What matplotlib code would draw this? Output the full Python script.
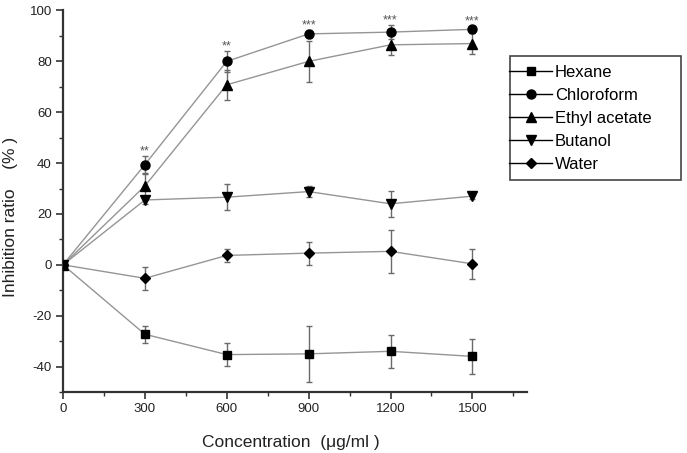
import numpy as np
import matplotlib.pyplot as plt
from matplotlib.lines import Line2D
from matplotlib.patches import Rectangle
from matplotlib.ticker import MultipleLocator

plt.rcParams['font.family'] = ['Liberation Sans', 'DejaVu Sans']
plt.rcParams['axes.unicode_minus'] = False

conc = [0, 300, 600, 900, 1200, 1500]

hexane = [0, -27.3, -35.3, -35.0, -34.0, -36.0]
hexane_err = [0, 3.3, 4.5, 11.0, 6.5, 7.0]
chloroform = [0, 39.4, 80.0, 90.8, 91.5, 92.6]
chloroform_err = [0, 3.5, 4.0, 1.5, 2.8, 1.5]
ethyl = [0, 31.0, 70.8, 80.0, 86.5, 87.0]
ethyl_err = [0, 5.0, 6.0, 8.0, 4.0, 4.0]
butanol = [0, 25.5, 26.6, 28.8, 24.0, 27.0]
butanol_err = [0, 1.5, 5.0, 2.0, 5.0, 1.0]
water = [0, -5.3, 3.7, 4.6, 5.3, 0.4]
water_err = [0, 4.5, 2.5, 4.5, 8.5, 6.0]

names = ['Hexane', 'Chloroform', 'Ethyl acetate', 'Butanol', 'Water']
markers = ['s', 'o', '^', 'v', 'D']
msizes = [5.5, 6.5, 6.5, 6.5, 5.5]
series = [(hexane, hexane_err), (chloroform, chloroform_err), (ethyl, ethyl_err),
          (butanol, butanol_err), (water, water_err)]

stars = ['', '**', '**', '***', '***', '***']

W, H = 687, 453
fig = plt.figure(figsize=(W / 100, H / 100), dpi=100)
ax = fig.add_axes([63 / W, 61 / H, 464 / W, 381.5 / H])

line_c = '#959595'
for (vals, errs), m, ms in zip(series, markers, msizes):
    ax.errorbar(conc, vals, yerr=errs, color=line_c, lw=1.0, ecolor='#6a6a6a',
                elinewidth=1.0, capsize=2.5, capthick=1.0, marker=m, ms=ms,
                mfc='black', mec='black', zorder=3)

# significance marks above chloroform
for x, y, e, s in zip(conc, chloroform, chloroform_err, stars):
    if s:
        ax.text(x, y + e + 0.5, s, ha='center', va='baseline', fontsize=9,
                color='#555555')

ax.set_xlim(0, 1700)
ax.set_ylim(-50, 100)
ax.xaxis.set_major_locator(MultipleLocator(300))
ax.xaxis.set_minor_locator(MultipleLocator(150))
ax.yaxis.set_major_locator(MultipleLocator(20))
ax.yaxis.set_minor_locator(MultipleLocator(10))
ax.set_xticks([0, 300, 600, 900, 1200, 1500])

for sp in ['top', 'right']:
    ax.spines[sp].set_visible(False)
for sp in ['left', 'bottom']:
    ax.spines[sp].set_linewidth(1.6)
    ax.spines[sp].set_color('#333333')

ax.tick_params(which='major', length=5, width=1.2, labelsize=9.5, color='#333333',
               labelcolor='#222222', pad=3)
ax.tick_params(which='minor', length=3, width=1.0, color='#333333')

fig.text(291 / W, 1 - 443 / H, 'Concentration  (μg/ml )', fontsize=12.5,
         color='#222222', ha='center', va='center')
fig.text(11 / W, 1 - 217 / H, 'Inhibition ratio    (% )', fontsize=12.5,
         color='#222222', ha='center', va='center', rotation=90)

# legend box drawn separately so its size matches the original
fig.patches.append(Rectangle((510 / W, 1 - 180 / H), 171 / W, 124 / H,
                             transform=fig.transFigure, fill=False,
                             edgecolor='#444444', lw=1.2, zorder=5))

handles = [Line2D([0], [0], color='black', lw=1.0, marker=m, ms=ms,
                  mfc='black', mec='black') for m, ms in zip(markers, msizes)]
leg = fig.legend(handles, names, loc='upper left', bbox_to_anchor=(509 / W, 1 - 65 / H),
                 fontsize=12, frameon=False, handlelength=2.6,
                 handletextpad=0.15, labelspacing=0.48, borderpad=0, borderaxespad=0)

fig.savefig('out.png', dpi=100)
